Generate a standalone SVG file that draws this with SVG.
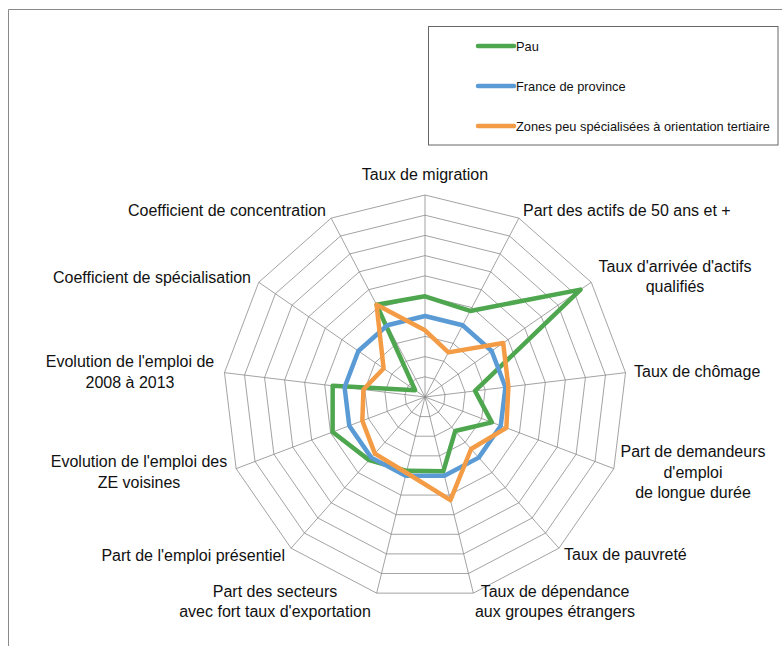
<svg xmlns="http://www.w3.org/2000/svg" xmlns:xlink="http://www.w3.org/1999/xlink" width="782" height="646" viewBox="0 0 782 646">
<style>
.grid{fill:none;stroke:#8c8c8c;stroke-width:0.8;vector-effect:non-scaling-stroke}
.spoke{stroke:#8c8c8c;stroke-width:0.8}
.lbl{font-family:"Liberation Sans",Arial,sans-serif;font-size:16px;fill:#111}
.leg{font-family:"Liberation Sans",Arial,sans-serif;font-size:12.8px;fill:#111}
.s{fill:none;stroke-width:4.5;stroke-linejoin:round}
.g{stroke:#4EA64E}
.b{stroke:#5B9BD5}
.o{stroke:#F39C45}
.ll{stroke-width:4.5;stroke-linecap:round}
</style>
<defs>
<polygon id="ring" class="grid" points="0,-1 0.46472,-0.88546 0.82298,-0.56806 0.99271,-0.12054 0.93502,0.35460 0.66312,0.74851 0.23932,0.97094 -0.23932,0.97094 -0.66312,0.74851 -0.93502,0.35460 -0.99271,-0.12054 -0.82298,-0.56806 -0.46472,-0.88546"/>
</defs>
<rect width="782" height="646" fill="#fff"/>
<path d="M8.5,646 V9.5 H782" fill="none" stroke="#8a8a8a" stroke-width="1"/>
<g id="grid">
<use xlink:href="#ring" transform="translate(425 397) scale(20.2)"/>
<use xlink:href="#ring" transform="translate(425 397) scale(40.4)"/>
<use xlink:href="#ring" transform="translate(425 397) scale(60.6)"/>
<use xlink:href="#ring" transform="translate(425 397) scale(80.8)"/>
<use xlink:href="#ring" transform="translate(425 397) scale(101)"/>
<use xlink:href="#ring" transform="translate(425 397) scale(121.2)"/>
<use xlink:href="#ring" transform="translate(425 397) scale(141.4)"/>
<use xlink:href="#ring" transform="translate(425 397) scale(161.6)"/>
<use xlink:href="#ring" transform="translate(425 397) scale(181.8)"/>
<use xlink:href="#ring" transform="translate(425 397) scale(202)"/>
<path class="spoke" d="M425,397L425,195M425,397L518.87,218.14M425,397L591.24,282.25M425,397L625.53,372.65M425,397L613.87,468.63M425,397L558.95,548.2M425,397L473.34,593.13M425,397L376.66,593.13M425,397L291.05,548.2M425,397L236.13,468.63M425,397L224.47,372.65M425,397L258.76,282.25M425,397L331.13,218.14"/>
</g>
<g id="series">
<polygon id="pau" class="s g" points="425,296.3 470.17,310.93 580.54,289.64 475.03,390.92 491.85,422.35 455.17,431.06 443.31,471.28 406.81,470.79 369.1,460.1 332.62,432.03 332.68,385.79 415.12,390.18 376.58,304.74"/>
<polygon id="france" class="s b" points="425,316 462.64,325.28 491.66,350.99 505.41,387.24 500.74,425.72 478.71,457.63 444.38,475.65 405.62,475.65 371.29,457.63 349.26,425.72 344.59,387.24 358.34,350.99 387.36,325.28"/>
<polygon id="zones" class="s o" points="425,330.3 448.42,352.37 503.18,343.03 508.39,386.87 506.35,427.85 471.09,449.02 450.44,500.21 406.33,472.73 374.87,453.59 362.35,420.76 363.45,389.53 383.6,368.43 376.58,304.74"/>
</g>
<g id="axis-labels" class="lbl">
<text x="425" y="180" text-anchor="middle">Taux de migration</text>
<text x="523" y="216">Part des actifs de 50 ans et +</text>
<text x="675" y="272" text-anchor="middle">Taux d'arrivée d'actifs</text>
<text x="675" y="292" text-anchor="middle">qualifiés</text>
<text x="634" y="377">Taux de chômage</text>
<text x="693" y="457" text-anchor="middle">Part de demandeurs</text>
<text x="693" y="477.5" text-anchor="middle">d'emploi</text>
<text x="693" y="498" text-anchor="middle">de longue durée</text>
<text x="564" y="560">Taux de pauvreté</text>
<text x="555" y="597" text-anchor="middle">Taux de dépendance</text>
<text x="555" y="617" text-anchor="middle">aux groupes étrangers</text>
<text x="275" y="597" text-anchor="middle">Part des secteurs</text>
<text x="275" y="617" text-anchor="middle">avec fort taux d'exportation</text>
<text x="285" y="561" text-anchor="end">Part de l'emploi présentiel</text>
<text x="139" y="467" text-anchor="middle">Evolution de l'emploi des</text>
<text x="139" y="487.5" text-anchor="middle">ZE voisines</text>
<text x="130" y="367" text-anchor="middle">Evolution de l'emploi de</text>
<text x="130" y="388" text-anchor="middle">2008 à 2013</text>
<text x="251" y="283" text-anchor="end">Coefficient de spécialisation</text>
<text x="326" y="216" text-anchor="end">Coefficient de concentration</text>
</g>
<g id="legend">
<rect x="428.5" y="26.5" width="349.5" height="118.5" fill="#fff" stroke="#666" stroke-width="1"/>
<line class="ll g" x1="478" y1="46" x2="514" y2="46"/>
<line class="ll b" x1="478" y1="86" x2="514" y2="86"/>
<line class="ll o" x1="478" y1="126" x2="514" y2="126"/>
<text class="leg" x="516" y="50.5">Pau</text>
<text class="leg" x="516" y="90.5">France de province</text>
<text class="leg" x="516" y="130.5">Zones peu spécialisées à orientation tertiaire</text>
</g>
</svg>
